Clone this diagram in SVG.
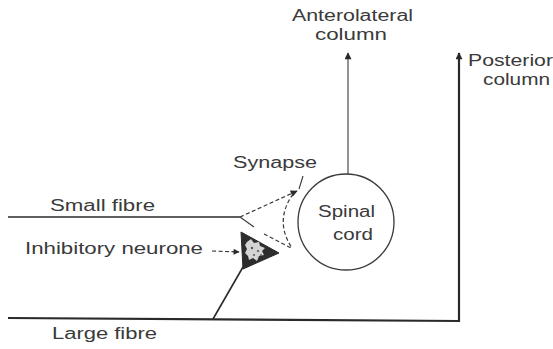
<svg xmlns="http://www.w3.org/2000/svg" width="553" height="349" viewBox="0 0 553 349">
<defs>
<marker id="ah" viewBox="0 0 10 10" refX="9" refY="5" markerWidth="8" markerHeight="7" markerUnits="userSpaceOnUse" orient="auto">
<path d="M0,0 L10,5 L0,10 Z" fill="#2a2a2a"/>
</marker>
<marker id="ahs" viewBox="0 0 10 10" refX="9" refY="5" markerWidth="7" markerHeight="6" markerUnits="userSpaceOnUse" orient="auto">
<path d="M0,0 L10,5 L0,10 Z" fill="#2a2a2a"/>
</marker>
<style>
text{font-family:"Liberation Sans",Arial,sans-serif;font-size:16px;fill:#3a3a3a}
.ln{stroke:#2a2a2a;fill:none;stroke-width:1.6}
.thin{stroke:#3a3a3a;fill:none;stroke-width:1.1}
.dash{stroke:#3a3a3a;fill:none;stroke-width:1.2;stroke-dasharray:4 2.5}
</style>
</defs>
<rect width="553" height="349" fill="#ffffff"/>
<g id="connectors">
<path class="ln" d="M8,217 L240,217"/>
<path class="dash" d="M240,217 L297,191" marker-end="url(#ah)"/>
<path class="thin" d="M240,217 L254,227"/>
<path class="dash" d="M264,234 L291,248"/>
<path class="ln" d="M8,318 L459,321 L459,53" marker-end="url(#ah)" style="stroke-width:2.2"/>
<path class="ln" d="M243,267 L213,319"/>
<path class="thin" d="M348,174 L348,53" marker-end="url(#ah)"/>
<path class="thin" d="M303,176 L299,189"/>
<path class="dash" d="M293,194 Q274,221 292,248"/>
<path class="dash" d="M212,251 L239,252" marker-end="url(#ahs)"/>
</g>
<g id="spinal-cord">
<circle cx="346" cy="222" r="48" class="thin" style="stroke-width:1.3"/>
<text x="318" y="217" textLength="57" lengthAdjust="spacingAndGlyphs">Spinal</text>
<text x="333" y="240" textLength="40" lengthAdjust="spacingAndGlyphs">cord</text>
</g>
<g id="inhibitory-neurone">
<path d="M241,232 L279,253 L243,269 Z" fill="#2d2d2d" stroke="#2a2a2a" stroke-width="1"/>
<path d="M247,242 l4,-3 l3,4 l5,-1 l1,4 l5,2 l-3,3 l2,4 l-5,1 l-2,5 l-4,-3 l-4,2 l-1,-4 l-3,-3 l2,-4 l-2,-4 Z" fill="#d4d4d4"/>
<circle cx="252" cy="248" r="1.2" fill="#555"/>
<circle cx="258" cy="251" r="1.1" fill="#555"/>
<circle cx="254" cy="255" r="1" fill="#555"/>
<circle cx="261" cy="255" r="0.9" fill="#555"/>
<text x="25" y="254" textLength="178" lengthAdjust="spacingAndGlyphs">Inhibitory neurone</text>
</g>
<g id="synapse">
<text x="233" y="168" textLength="84" lengthAdjust="spacingAndGlyphs">Synapse</text>
</g>
<g id="small-fibre">
<text x="50" y="211" textLength="105" lengthAdjust="spacingAndGlyphs">Small fibre</text>
</g>
<g id="large-fibre">
<text x="52" y="339" textLength="105" lengthAdjust="spacingAndGlyphs">Large fibre</text>
</g>
<g id="anterolateral-column">
<text x="292" y="21" textLength="121" lengthAdjust="spacingAndGlyphs">Anterolateral</text>
<text x="315" y="40" textLength="72" lengthAdjust="spacingAndGlyphs">column</text>
</g>
<g id="posterior-column">
<text x="468" y="66" textLength="85" lengthAdjust="spacingAndGlyphs">Posterior</text>
<text x="483" y="85" textLength="67" lengthAdjust="spacingAndGlyphs">column</text>
</g>
</svg>
